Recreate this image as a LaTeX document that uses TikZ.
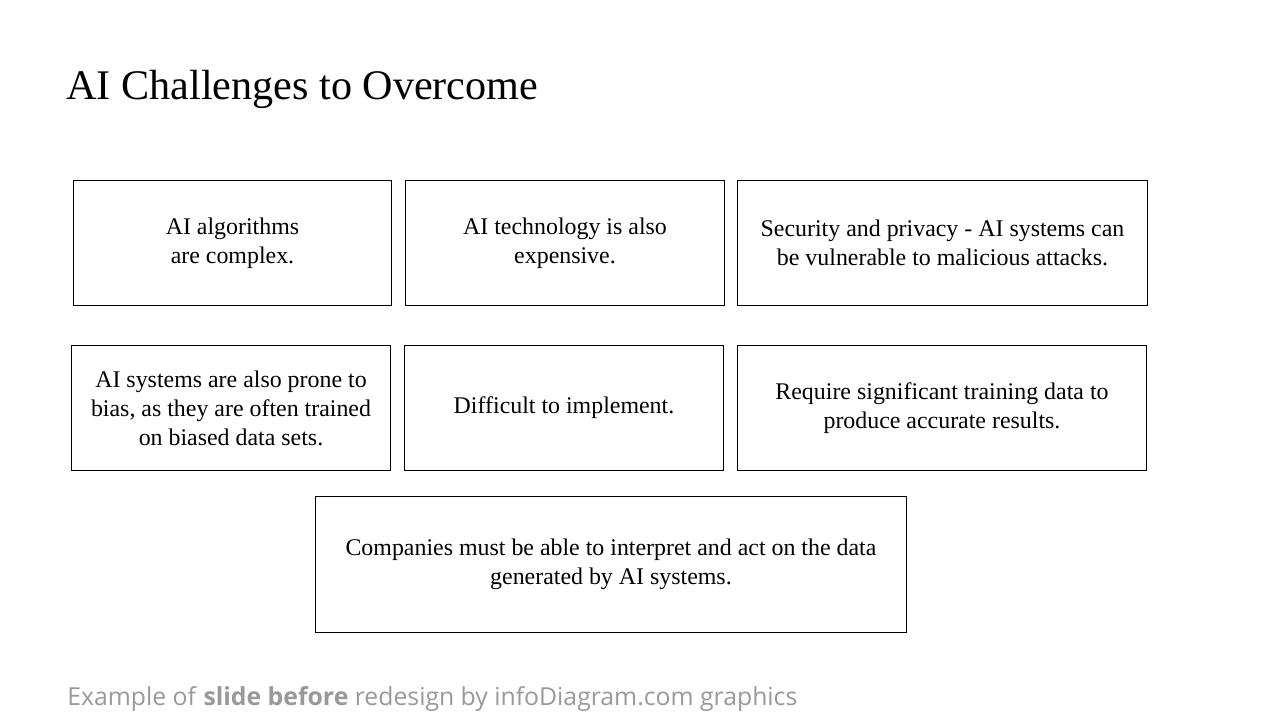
\documentclass[tikz,border=0pt]{standalone}
\usepackage{fontspec}
\setmainfont{Liberation Serif}
\newfontfamily\footfont{Open Sans}
\usetikzlibrary{positioning}
\tikzset{cbox/.style={rectangle, draw=black, line width=0.6pt, inner sep=0pt, align=center,
  font=\fontsize{13.6}{16.5}\selectfont, anchor=north west}}

\begin{document}
\begin{tikzpicture}[x=0.02cm, y=-0.02cm]
  \useasboundingbox (0,0) rectangle (1280,720);

  \node (title) [anchor=base west, inner sep=0pt, font=\fontsize{24}{28}\selectfont] at (66,99) {AI Challenges to Overcome};

  % first row
  \node (c1) [cbox, minimum width=6.36cm, minimum height=2.5cm] at (73,180) {AI algorithms\\are complex.};
  \node (c2) [cbox, minimum width=6.38cm, minimum height=2.5cm] at (405,180) {AI technology is also\\expensive.};
  \node (c3) [cbox, minimum width=8.2cm, minimum height=2.5cm] at (737,180) {Security and privacy - AI systems can\\be vulnerable to malicious attacks.};

  % second row
  \node (c4) [cbox, minimum width=6.38cm, minimum height=2.5cm] at (71,345) {AI systems are also prone to\\bias, as they are often trained\\on biased data sets.};
  \node (c5) [cbox, minimum width=6.38cm, minimum height=2.5cm] at (404,345) {Difficult to implement.};
  \node (c6) [cbox, minimum width=8.18cm, minimum height=2.5cm] at (737,345) {Require significant training data to\\produce accurate results.};

  % last row
  \node (c7) [cbox, minimum width=11.82cm, minimum height=2.72cm] at (315,496) {Companies must be able to interpret and act on the data\\generated by AI systems.};

  \node (foot) [anchor=base west, inner sep=0pt, text=black!40, font=\footfont\fontsize{14.1}{16}\selectfont] at (67,705) {Example of \textbf{slide before} redesign by infoDiagram.com graphics};
\end{tikzpicture}
\end{document}
